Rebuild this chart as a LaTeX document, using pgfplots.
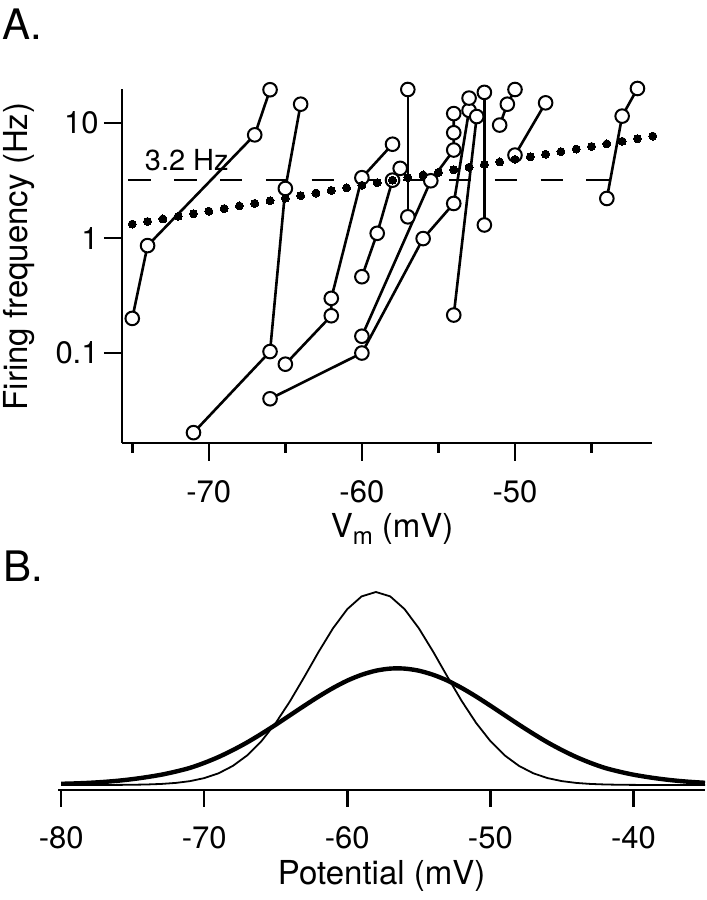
\documentclass[border=0pt]{standalone}
\usepackage{pgfplots}
\pgfplotsset{compat=1.18}
\usepackage{fontspec}
\setmainfont{TeX Gyre Heros}
\pgfplotsset{cell/.style={black, line width=1.3pt, mark=*, mark size=3.4pt,
  mark options={fill=white, draw=black, line width=1pt, solid}}}
\begin{document}
\begin{tikzpicture}
\path[use as bounding box] (0,0) rectangle (353.5pt,450pt);
% ---------------- Panel A ----------------
\begin{axis}[
  at={(61pt,228.5pt)}, anchor=south west,
  scale only axis, width=264.85pt, height=177pt,
  xmin=-75.67, xmax=-41.07,
  ymode=log, ymin=0.0165, ymax=19.8,
  axis x line*=bottom, axis y line*=left,
  axis line style={line width=1.3pt, -},
  tick align=outside,
  xtick={-70,-60,-50}, xticklabels={-70,-60,-50},
  minor xtick={-75,-65,-55,-45},
  ytick={0.1,1,10}, yticklabels={0.1,1,10},
  minor ytick={1e-6},
  major tick length=9pt, minor tick length=5pt,
  every tick/.style={line width=1.3pt, black},
  /pgf/number format/assume math mode=true,
  tick label style={font=\fontsize{15.5}{18}\selectfont, inner sep=0pt},
  xticklabel style={anchor=north, yshift=-9.5pt},
  yticklabel style={anchor=east, xshift=-2.5pt},
  xlabel={V\raisebox{-0.4ex}{\fontsize{12}{13}\selectfont m} (mV)},
  ylabel={Firing frequency (Hz)},
  label style={font=\fontsize{16.5}{19}\selectfont, inner sep=0pt},
  xlabel style={at={(axis description cs:0.51,-0.198)}, anchor=north},
  ylabel style={at={(axis description cs:-0.1945,0.527)}, anchor=center},
  clip=false,
]
% threshold line
\addplot[black, line width=1.3pt, dash pattern=on 11.15pt off 11.75pt] coordinates {(-75.25,3.2) (-43.66,3.2)};
\node[anchor=base west, inner sep=0pt, font=\fontsize{14.5}{17}\selectfont] at (axis cs:-74.2,3.9) {3.2 Hz};
% cells
\addplot[cell] coordinates {(-75,0.2) (-74,0.86) (-67,7.9) (-66,19.5)};
\addplot[cell] coordinates {(-71,0.0203) (-66,0.103) (-65,2.7) (-64,14.6)};
\addplot[cell] coordinates {(-65,0.08) (-62,0.211) (-62,0.299) (-60,3.35) (-58,6.55)};
\addplot[cell] coordinates {(-66,0.04) (-60,0.1) (-56,0.99) (-54,2.0) (-53,12.9) (-53,16.5)};
\addplot[cell] coordinates {(-60,0.14) (-55.5,3.15) (-54,5.83) (-54,8.24) (-54,12.1)};
\addplot[cell] coordinates {(-54,0.214) (-52.5,11.4)};
\addplot[cell] coordinates {(-57,19.6) (-57,1.53)};
\addplot[cell] coordinates {(-60,0.461) (-59,1.1) (-58,3.19) (-57.5,4.04)};
\addplot[cell] coordinates {(-52,18.5) (-52,1.3)};
\addplot[cell] coordinates {(-51,9.61) (-50.5,14.6) (-50,19.6)};
\addplot[cell] coordinates {(-50,5.27) (-48,15.0)};
\addplot[cell] coordinates {(-44,2.21) (-43,11.5) (-42,20.0)};
% exponential fit (dotted)
\addplot[only marks, mark=*, mark size=2pt, mark options={fill=black, draw=black, line width=0pt}] coordinates {
(-75,1.323) (-74,1.393) (-73,1.468) (-72,1.546) (-71,1.628) (-70,1.714)
(-69,1.806) (-68,1.902) (-67,2.003) (-66,2.109) (-65,2.222) (-64,2.340)
(-63,2.464) (-62,2.595) (-61,2.733) (-60,2.879) (-59,3.032) (-58,3.193)
(-57,3.363) (-56,3.542) (-55,3.730) (-54,3.929) (-53,4.138) (-52,4.358)
(-51,4.590) (-50,4.834) (-49,5.091) (-48,5.362) (-47,5.647) (-46,5.947)
(-45,6.264) (-44,6.597) (-43,6.948) (-42,7.317) (-41,7.706)};
\end{axis}
% ---------------- Panel B ----------------
\begin{axis}[
  at={(29.15pt,55pt)}, anchor=south west,
  scale only axis, width=323.35pt, height=102.5pt,
  xmin=-80.2, xmax=-35, ymin=-5, ymax=200,
  axis x line*=bottom, axis y line=none,
  axis line style={line width=1.1pt, -},
  tick align=outside,
  xtick={-80,-70,-60,-50,-40}, xticklabels={-80,-70,-60,-50,-40},
  minor xtick={},
  major tick length=8.5pt,
  every tick/.style={line width=1.2pt, black},
  /pgf/number format/assume math mode=true,
  tick label style={font=\fontsize{15.5}{18}\selectfont, inner sep=0pt},
  xticklabel style={anchor=north, yshift=-9.5pt},
  xlabel={Potential (mV)},
  label style={font=\fontsize{16.5}{19}\selectfont, inner sep=0pt},
  xlabel style={at={(axis description cs:0.5,-0.341)}, anchor=north},
  clip=false,
]
\addplot[black, line width=0.9pt, no marks] coordinates {
(-80,0) (-79,0) (-78,0.01) (-77,0.04) (-76,0.11) (-75,0.24) (-74,0.52)
(-73,1.06) (-72,2.07) (-71,3.86) (-70,6.89) (-69,11.7) (-68,19.1)
(-67,29.6) (-66,43.9) (-65,62.1) (-64,83.9) (-63,108.2) (-62,133.3)
(-61,156.7) (-60,175.9) (-59,188.6) (-58,193) (-57,188.6) (-56,175.9)
(-55,156.7) (-54,133.3) (-53,108.2) (-52,83.9) (-51,62.1) (-50,43.9)
(-49,29.6) (-48,19.1) (-47,11.7) (-46,6.89) (-45,3.86) (-44,2.07)
(-43,1.06) (-42,0.52) (-41,0.24) (-40,0.11) (-39,0.04) (-38,0.01)
(-37,0) (-36,0) (-35,0)};
\addplot[black, line width=2.2pt, no marks, smooth] coordinates {
(-80,1.2) (-79,1.6) (-78,2.2) (-77,3.1) (-76,4.3) (-75,5.9) (-74,7.9)
(-73,10.3) (-72,13.4) (-71,17.1) (-70,22.1) (-69,28.0) (-68,34.9)
(-67,42.6) (-66,51.2) (-65,60.3) (-64,69.8) (-63,79.3) (-62,88.5)
(-61,97.0) (-60,104.4) (-59,110.2) (-58,114.3) (-57,116.4) (-56,116.4)
(-55,114.3) (-54,110.2) (-53,104.4) (-52,97.0) (-51,88.5) (-50,79.3)
(-49,69.8) (-48,60.3) (-47,51.2) (-46,42.6) (-45,34.9) (-44,28.0)
(-43,22.1) (-42,17.1) (-41,13.4) (-40,10.3) (-39,7.9) (-38,5.9)
(-37,4.3) (-36,3.1) (-35,2.2)};
\end{axis}
% panel labels
\node[anchor=base west, inner sep=0pt, font=\fontsize{21}{24}\selectfont] at (1pt,430pt) {A.};
\node[anchor=base west, inner sep=0pt, font=\fontsize{21}{24}\selectfont] at (1.5pt,159pt) {B.};
\end{tikzpicture}
\end{document}
